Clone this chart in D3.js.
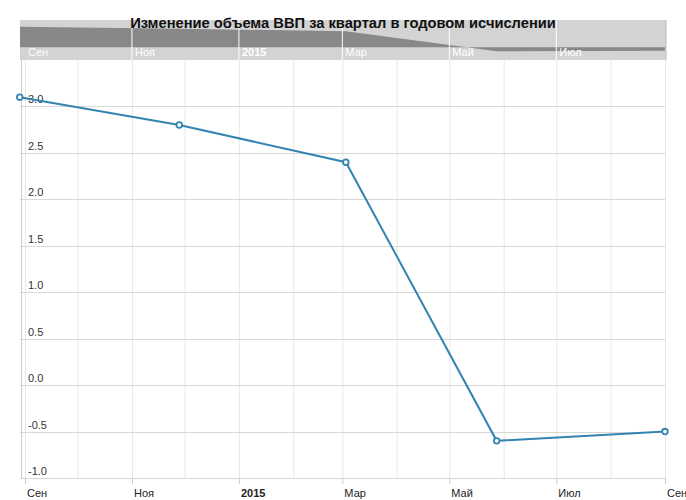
<!DOCTYPE html>
<html>
<head>
<meta charset="utf-8">
<script src="https://cdn.jsdelivr.net/npm/d3@7"></script>
<style>
  body { margin: 0; background: #fff; }
  text { font-family: "Liberation Sans", Arial, sans-serif; }
</style>
</head>
<body>
<svg id="chart"></svg>
<script>
const dates = ["2014-08-29", "2014-11-28", "2015-03-03", "2015-05-28", "2015-09-01"];
const values = [3.1, 2.8, 2.4, -0.6, -0.5];
const tickDates = ["2014-09-01", "2014-11-01", "2015-01-01", "2015-03-01", "2015-05-01", "2015-07-01", "2015-09-01"];
const tickLabels = ["Сен", "Ноя", "2015", "Мар", "Май", "Июл", "Сен"];
const yTicks = [-1.0, -0.5, 0.0, 0.5, 1.0, 1.5, 2.0, 2.5, 3.0];
const title = "Изменение объема ВВП за квартал в годовом исчислении";

const width = 686, height = 500;
const parse = d3.utcParse("%Y-%m-%d");
const data = dates.map((d, i) => ({ date: parse(d), value: values[i] }));
const ticks = tickDates.map(parse);

const svg = d3.select("#chart").attr("width", width).attr("height", height);

const x = d3.scaleUtc()
    .domain([parse("2014-09-01"), parse("2015-09-01")])
    .range([25, 665]);

const y = d3.scaleLinear().domain([-1, 3.5]).range([478, 60]);
const yNav = d3.scaleLinear().domain([-1, 3.2]).range([54, 26]);

// navigator strip
const nav = svg.append("g");
nav.append("rect")
    .attr("x", 20).attr("y", 20).attr("width", 646).attr("height", 40)
    .attr("fill", "#d3d3d3");
nav.append("path")
    .datum(data)
    .attr("fill", "#888")
    .attr("d", d3.area()
        .x(d => Math.max(20, x(d.date)))
        .y0(yNav(0))
        .y1(d => yNav(d.value)));
nav.selectAll("line.nav")
    .data(ticks.slice(1, -1))
    .join("line")
    .attr("x1", d => x(d)).attr("x2", d => x(d))
    .attr("y1", 20).attr("y2", 60)
    .attr("stroke", "#fff").attr("stroke-width", 1);
nav.append("line")
    .attr("x1", 666).attr("x2", 666).attr("y1", 20).attr("y2", 60)
    .attr("stroke", "#bbb");
nav.selectAll("text")
    .data(ticks.slice(0, -1))
    .join("text")
    .attr("x", d => x(d) + 3)
    .attr("y", 56)
    .attr("fill", "#fff")
    .attr("font-size", 11)
    .attr("font-weight", (d, i) => tickLabels[i] === "2015" ? "bold" : "normal")
    .text((d, i) => tickLabels[i]);

// title
svg.append("text")
    .attr("x", 343).attr("y", 28)
    .attr("text-anchor", "middle")
    .attr("font-size", 14.7)
    .attr("font-weight", "bold")
    .attr("fill", "#111")
    .text(title);

// vertical grid, monthly
const months = d3.utcMonth.range(parse("2014-09-01"), parse("2015-09-02"));
svg.append("g").selectAll("line")
    .data(months)
    .join("line")
    .attr("x1", d => x(d) + 0.5).attr("x2", d => x(d) + 0.5)
    .attr("y1", 60).attr("y2", 478)
    .attr("stroke", "#e8e8e8");

// horizontal grid
svg.append("g").selectAll("line")
    .data(yTicks)
    .join("line")
    .attr("x1", 20).attr("x2", 665)
    .attr("y1", d => Math.round(y(d)) + 0.5).attr("y2", d => Math.round(y(d)) + 0.5)
    .attr("stroke", "#d8d8d8");

// y axis line
svg.append("line")
    .attr("x1", 21.5).attr("x2", 21.5).attr("y1", 60).attr("y2", 478)
    .attr("stroke", "#ccc");

svg.append("g").selectAll("text")
    .data(yTicks)
    .join("text")
    .attr("x", 28)
    .attr("y", d => y(d) - 3)
    .attr("font-size", 11)
    .attr("fill", "#333")
    .text(d => d3.format(".1f")(d).replace("\u2212", "-"));

// x axis
const xAxis = svg.append("g").attr("transform", "translate(0,478)");
xAxis.selectAll("line")
    .data(ticks)
    .join("line")
    .attr("x1", d => x(d) + 0.5).attr("x2", d => x(d) + 0.5)
    .attr("y1", 0).attr("y2", 6)
    .attr("stroke", "#ccc");
xAxis.selectAll("text")
    .data(ticks)
    .join("text")
    .attr("x", d => x(d) + 2)
    .attr("y", 19)
    .attr("font-size", 11)
    .attr("fill", "#222")
    .attr("font-weight", (d, i) => tickLabels[i] === "2015" ? "bold" : "normal")
    .text((d, i) => tickLabels[i]);

// series
const color = "#3484b2";
svg.append("path")
    .datum(data)
    .attr("fill", "none")
    .attr("stroke", color)
    .attr("stroke-width", 2)
    .attr("d", d3.line().x(d => x(d.date)).y(d => y(d.value)));

svg.append("g").selectAll("circle")
    .data(data)
    .join("circle")
    .attr("cx", d => x(d.date))
    .attr("cy", d => y(d.value))
    .attr("r", 2.8)
    .attr("fill", "#fff")
    .attr("stroke", color)
    .attr("stroke-width", 1.8);
</script>
</body>
</html>
